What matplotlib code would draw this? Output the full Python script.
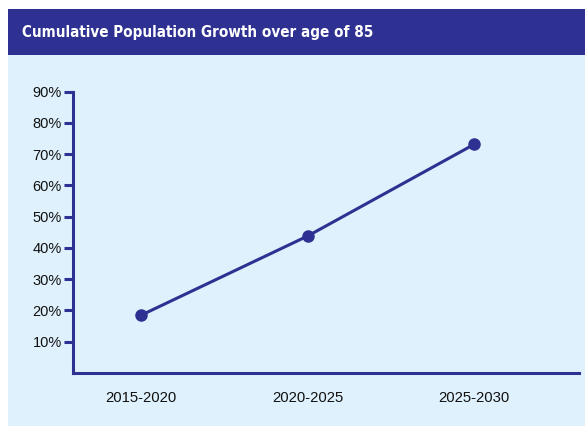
import matplotlib
matplotlib.use("Agg")
import matplotlib.pyplot as plt
from matplotlib.patches import Rectangle
from matplotlib import font_manager as fm

categories = ["2015-2020", "2020-2025", "2025-2030"]
values = [18.5, 43.8, 73.1]
ytick_values = [10, 20, 30, 40, 50, 60, 70, 80, 90]
ytick_labels = ["10%", "20%", "30%", "40%", "50%", "60%", "70%", "80%", "90%"]
title = "Cumulative Population Growth over age of 85"

NAVY = "#2e3192"
PANEL = "#dff1fc"

W, H = 585, 426
fig = plt.figure(figsize=(W / 100, H / 100), dpi=100)
fig.patch.set_facecolor("white")

fig.add_artist(Rectangle((8 / W, 0), 1 - 8 / W, 1 - 55 / H, transform=fig.transFigure,
                         facecolor=PANEL, edgecolor="none", zorder=0))
fig.add_artist(Rectangle((8 / W, 1 - 55 / H), 1 - 8 / W, 46 / H, transform=fig.transFigure,
                         facecolor=NAVY, edgecolor="none", zorder=0))

fp = fm.FontProperties(family="DejaVu Sans", weight="bold", stretch="condensed", size=10.9)
fig.text(22 / W, 1 - 32 / H, title, color="white", fontproperties=fp,
         va="center", ha="left")

left, right = 73 / W, 579 / W
bottom, top = 1 - 373 / H, 1 - 91.5 / H
ax = fig.add_axes([left, bottom, right - left, top - bottom])
ax.set_facecolor("none")

x = list(range(len(categories)))
ax.plot(x, values, color=NAVY, lw=2.2, marker="o", markersize=8, clip_on=False)

ax.set_xlim(-0.41, 2.63)
ax.set_ylim(0, 90)
ax.set_xticks(x)
ax.set_xticklabels(categories, family="Liberation Sans", fontsize=10.7, color="#111111")
ax.set_yticks(ytick_values)
ax.set_yticklabels(ytick_labels, family="Liberation Sans", fontsize=10.5, color="#111111")
ax.tick_params(axis="x", length=0, pad=13)
ax.tick_params(axis="y", length=6.5, width=2.2, color=NAVY, pad=1.5)

for s in ["top", "right"]:
    ax.spines[s].set_visible(False)
for s in ["left", "bottom"]:
    ax.spines[s].set_color(NAVY)
    ax.spines[s].set_linewidth(2.2)
    ax.spines[s].set_capstyle("projecting")

fig.savefig("out.png", dpi=100)
